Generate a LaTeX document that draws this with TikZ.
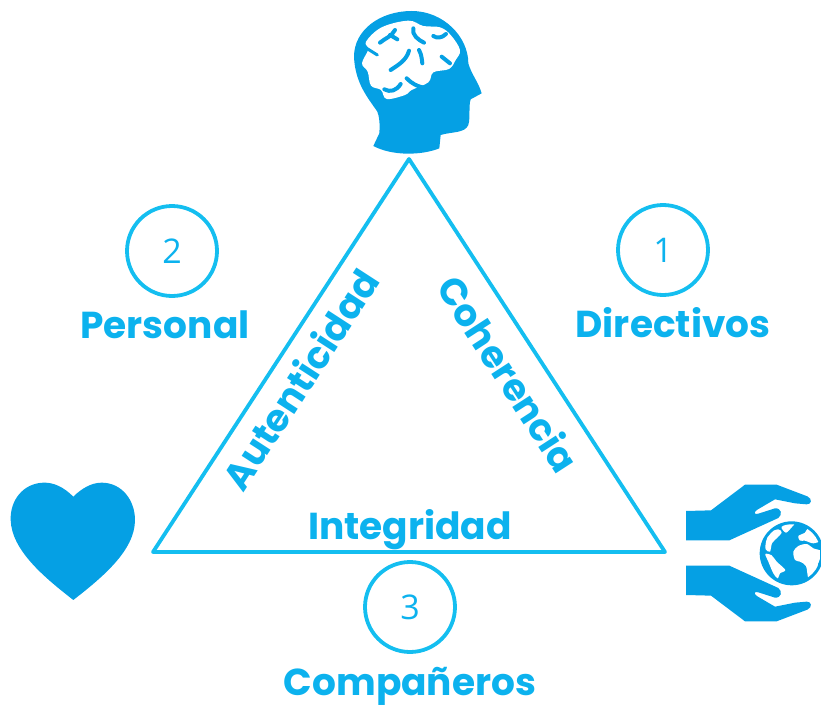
\documentclass[tikz,border=0pt]{standalone}
\usepackage{fontspec}
\setmainfont{Poppins}
\newfontfamily\numfont{Open Sans}
\definecolor{line}{HTML}{14BEF0}
\definecolor{txt}{HTML}{0CB2EE}
\definecolor{icon}{HTML}{05A0E4}
\tikzset{
  tri/.style={draw=line,line width=3.8pt,line join=round},
  circ/.style={circle,draw=line,line width=3.8pt,minimum size=90pt,inner sep=0pt,text=txt,font=\numfont\fontsize{34}{34}\selectfont},
  lab/.style={text=txt,font=\bfseries\fontsize{37.5}{37.5}\selectfont,inner sep=0pt},
  groove/.style={draw=icon,line width=4pt,line cap=round,line join=round}
}
\begin{document}
\begin{tikzpicture}[x=1pt,y=-1pt]
\useasboundingbox (0,0) rectangle (821,706);
% triangle
\coordinate (A) at (409,159);
\coordinate (B) at (153,552);
\coordinate (C) at (665,552);
\draw[tri] (A) -- (B) -- (C) -- cycle;
% circles
\node[circ] (n2) at (172,251) {2};
\node[circ] (n1) at (663,250) {1};
\node[circ] (n3) at (410,607) {3};
% labels
\node[lab] (personal) at (165,325) {Personal};
\node[lab] (directivos) at (673,323) {Directivos};
\node[lab] (comp) at (410,686) {Compañeros};
\node[lab] (integ) at (410,530) {Integridad};
\node[lab,rotate=57] (aut) at (300,379) {Autenticidad};
\node[lab,rotate=-57] (coh) at (509,374) {Coherencia};
% head
\begin{scope}[shift={(340,0)},x=0.3333pt,y=-0.3333pt]
\fill[icon] (100,438) -- (118,400) .. controls (120,370) and (118,350) .. (112,335)
  .. controls (85,295) and (45,250) .. (42,170)
  .. controls (42,90) and (120,33) .. (215,33)
  .. controls (310,33) and (385,110) .. (385,190)
  .. controls (395,225) and (415,245) .. (425,280)
  -- (392,298) .. controls (385,320) and (392,350) .. (385,375)
  .. controls (375,400) and (335,395) .. (302,405)
  -- (298,445) .. controls (250,465) and (160,470) .. (100,438) -- cycle;
\fill[white] plot[smooth cycle,tension=0.6] coordinates {(66,190)(85,148)(78,125)(125,82)(205,62)(250,78)(300,82)(332,105)(360,150)(347,180)(327,207)(280,217)(265,247)(215,270)(195,285)(140,297)(123,270)(93,257)(83,215)};
\draw[groove] (120,128) .. controls (135,115) and (155,110) .. (165,90);
\draw[groove] (150,105) -- (172,118);
\draw[groove] (220,85) .. controls (215,105) and (235,120) .. (252,128);
\draw[groove] (280,108) .. controls (290,115) and (305,115) .. (318,102);
\draw[groove,line width=3pt] (80,145) -- (112,165);
\draw[groove] (152,210) .. controls (175,195) and (200,180) .. (207,152);
\draw[groove] (237,150) .. controls (245,165) and (245,175) .. (247,190);
\draw[groove] (305,170) -- (330,190);
\draw[groove] (200,235) .. controls (215,250) and (230,260) .. (262,265);
\draw[groove] (133,268) .. controls (150,278) and (170,272) .. (182,252);
\end{scope}
% heart
\begin{scope}[shift={(0,470)},x=0.3333pt,y=-0.3333pt]
\fill[icon] (220,80) .. controls (190,50) and (160,37) .. (130,38)
 .. controls (70,40) and (30,90) .. (32,150)
 .. controls (35,240) and (130,320) .. (220,390)
 .. controls (310,320) and (405,240) .. (405,150)
 .. controls (405,90) and (365,38) .. (305,38)
 .. controls (275,38) and (245,55) .. (220,80) -- cycle;
\end{scope}
% hands
\begin{scope}[shift={(670,470)},x=0.3333pt,y=-0.3333pt]
\foreach \m in {1,-1}{
\begin{scope}[shift={(0,249)},yscale=\m]
\fill[icon] (48,-126) -- (123,-128) -- (225,-205) -- (320,-205) -- (412,-170)
  .. controls (428,-163) and (425,-145) .. (410,-146)
  -- (375,-149) -- (315,-161) -- (262,-130) .. controls (248,-120) and (255,-115) .. (265,-118)
  -- (315,-134) .. controls (335,-135) and (338,-115) .. (325,-105)
  -- (178,-38) -- (48,-38) -- cycle;
\end{scope}}
\end{scope}
% globe
\begin{scope}[shift={(750,510)},x=0.3333pt,y=-0.3333pt]
\clip (0,0) rectangle (213,240);
\fill[icon] (125,130) circle (96);
\begin{scope}
\clip (125,130) circle (87);
\fill[white] plot[smooth cycle,tension=0.5] coordinates {(48,95)(60,68)(85,58)(95,68)(80,85)(66,100)(60,125)(47,118)};
\fill[white] plot[smooth cycle,tension=0.5] coordinates {(95,50)(135,38)(125,52)(108,68)};
\fill[white] plot[smooth cycle,tension=0.5] coordinates {(46,132)(65,136)(80,155)(106,180)(90,190)(83,205)(70,190)(55,155)};
\fill[white] plot[smooth cycle,tension=0.5] coordinates {(145,78)(165,68)(175,55)(205,70)(215,90)(190,100)(165,92)(150,92)};
\fill[white] plot[smooth cycle,tension=0.5] coordinates {(130,125)(145,108)(170,102)(190,115)(215,125)(205,160)(190,208)(175,205)(168,168)(150,155)(135,150)};
\end{scope}
\end{scope}
\end{tikzpicture}
\end{document}
